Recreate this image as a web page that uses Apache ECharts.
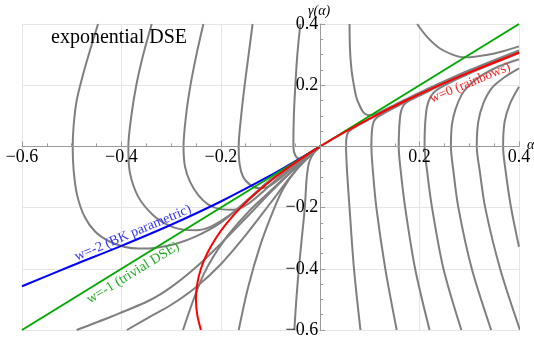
<!DOCTYPE html>
<html><head><meta charset="utf-8">
<script src="https://cdn.jsdelivr.net/npm/echarts@6/dist/echarts.min.js"></script>
<style>html,body{margin:0;padding:0;background:#fff}#c{width:534px;height:338px}</style>
</head><body><div id="c"></div>
<script>
// ---- data (x = alpha, y = gamma(alpha)) ----
const xTicks = [-0.6, -0.4, -0.2, 0, 0.2, 0.4];
const yTicks = [-0.6, -0.4, -0.2, 0, 0.2, 0.4];

const blueW2 = [[-0.6,-0.457],[-0.5,-0.39],[-0.4,-0.325],[-0.3,-0.256],[-0.2,-0.18],[-0.1,-0.095],[-0.05,-0.048],[0,0]];
const greenW1 = [[-0.6,-0.6],[0.4,0.4]];
const redW0 = [[-0.24,-0.6],[-0.2475,-0.55],[-0.25,-0.5],[-0.2475,-0.45],[-0.24,-0.4],[-0.2275,-0.35],[-0.21,-0.3],[-0.1875,-0.25],[-0.16,-0.2],[-0.1275,-0.15],[-0.09,-0.1],[-0.0475,-0.05],[0,0],[0.0525,0.05],[0.11,0.1],[0.1725,0.15],[0.24,0.2],[0.3125,0.25],[0.39,0.3],[0.4,0.306]];

const L1 = [[-0.447,0.4],[-0.463,0.315],[-0.478,0.23],[-0.49,0.15],[-0.496,0.07],[-0.498,0],[-0.496,-0.08],[-0.489,-0.16],[-0.474,-0.23],[-0.452,-0.28],[-0.425,-0.31],[-0.395,-0.328],[-0.365,-0.334],[-0.33,-0.331],[-0.29,-0.318],[-0.25,-0.294],[-0.2,-0.249],[-0.15,-0.18],[-0.1,-0.11],[-0.06,-0.065],[-0.03,-0.031],[0,0]];
const L2 = [[-0.339,0.4],[-0.356,0.3],[-0.37,0.2],[-0.38,0.1],[-0.386,0],[-0.383,-0.085],[-0.366,-0.165],[-0.336,-0.225],[-0.305,-0.258],[-0.275,-0.272],[-0.25,-0.274],[-0.22,-0.262],[-0.18,-0.222],[-0.14,-0.168],[-0.1,-0.108],[-0.05,-0.052],[0,0]];
const L3 = [[-0.235,0.4],[-0.249,0.3],[-0.261,0.2],[-0.27,0.1],[-0.275,0],[-0.272,-0.066],[-0.262,-0.115],[-0.245,-0.16],[-0.225,-0.19],[-0.2,-0.205],[-0.175,-0.207],[-0.15,-0.193],[-0.12,-0.155],[-0.08,-0.096],[-0.04,-0.044],[0,0]];
const L4 = [[-0.136,0.4],[-0.144,0.3],[-0.152,0.2],[-0.159,0.1],[-0.164,0],[-0.162,-0.06],[-0.155,-0.1],[-0.142,-0.124],[-0.125,-0.136],[-0.105,-0.132],[-0.08,-0.104],[-0.05,-0.062],[-0.025,-0.03],[0,0]];
const L5 = [[-0.04,0.4],[-0.046,0.3],[-0.05,0.2],[-0.053,0.1],[-0.054,0],[-0.05,-0.03],[-0.04,-0.042],[-0.025,-0.03],[-0.01,-0.011],[0,0]];
const B1 = [[0,0],[-0.012,-0.02],[-0.022,-0.05],[-0.027,-0.1],[-0.031,-0.2],[-0.037,-0.3],[-0.043,-0.4],[-0.048,-0.5],[-0.052,-0.6]];
const F1 = [[0,0],[-0.02,-0.03],[-0.05,-0.08],[-0.075,-0.14],[-0.094,-0.208],[-0.12,-0.32],[-0.145,-0.46],[-0.164,-0.6]];
const F2 = [[0,0],[-0.03,-0.04],[-0.07,-0.1],[-0.11,-0.16],[-0.141,-0.208],[-0.19,-0.3],[-0.235,-0.42],[-0.276,-0.6]];
const F3 = [[-0.389,-0.6],[-0.342,-0.556],[-0.302,-0.52],[-0.25,-0.46],[-0.2,-0.385],[-0.15,-0.29],[-0.1,-0.185],[-0.06,-0.1],[-0.03,-0.045],[0,0]];
const F4 = [[-0.49,-0.6],[-0.42,-0.556],[-0.342,-0.502],[-0.3,-0.46],[-0.25,-0.395],[-0.2,-0.318],[-0.15,-0.235],[-0.1,-0.15],[-0.06,-0.085],[-0.03,-0.04],[0,0]];
const R1 = [[0.081,-0.6],[0.068,-0.4],[0.059,-0.2],[0.054,-0.08],[0.052,0],[0.053,0.03],[0.057,0.048],[0.065,0.058],[0.08,0.072],[0.1,0.09],[0.15,0.132],[0.2,0.172],[0.3,0.244],[0.4,0.309]];
const R2 = [[0.154,-0.6],[0.131,-0.4],[0.113,-0.2],[0.106,-0.08],[0.103,0],[0.104,0.05],[0.107,0.078],[0.113,0.093],[0.125,0.105],[0.15,0.127],[0.2,0.17],[0.3,0.244],[0.4,0.31]];
const R3 = [[0.22,-0.6],[0.191,-0.4],[0.171,-0.2],[0.162,-0.08],[0.158,0],[0.159,0.06],[0.162,0.11],[0.168,0.135],[0.18,0.15],[0.2,0.166],[0.25,0.206],[0.3,0.243],[0.4,0.308]];
const R4 = [[0.284,-0.6],[0.248,-0.4],[0.225,-0.2],[0.215,-0.08],[0.21,0],[0.211,0.07],[0.215,0.13],[0.223,0.165],[0.235,0.185],[0.26,0.208],[0.3,0.238],[0.35,0.272],[0.4,0.305]];
const R5 = [[0.344,-0.6],[0.305,-0.4],[0.278,-0.2],[0.268,-0.08],[0.263,0],[0.265,0.07],[0.272,0.12],[0.285,0.17],[0.3,0.2],[0.325,0.232],[0.36,0.262],[0.4,0.285]];
const R6 = [[0.402,-0.6],[0.362,-0.4],[0.332,-0.2],[0.321,-0.08],[0.315,0],[0.318,0.08],[0.328,0.14],[0.345,0.19],[0.37,0.225],[0.4,0.255]];
const R7 = [[0.4,-0.328],[0.384,-0.2],[0.373,-0.08],[0.368,0],[0.371,0.08],[0.382,0.14],[0.4,0.195]];
const T1 = [[0.195,0.4],[0.215,0.358],[0.241,0.32],[0.275,0.295],[0.295,0.291],[0.335,0.299],[0.37,0.312],[0.4,0.327]];
const T2 = [[0.059,0.4],[0.06,0.315],[0.063,0.25],[0.067,0.207],[0.072,0.165],[0.077,0.142],[0.087,0.111],[0.097,0.102],[0.11,0.105],[0.127,0.118],[0.15,0.136],[0.2,0.176],[0.3,0.249],[0.4,0.314]];

const grayCurves = [L1, L2, L3, L4, L5, B1, F1, F2, F3, F4, R1, R2, R3, R4, R5, R6, R7, T1, T2];

const titleText = 'exponential DSE';
const labelBlue = 'w=-2 (BK parametric)';
const labelGreen = 'w=-1 (trivial DSE)';
const labelRed = 'w=0 (rainbows)';

// ---- chart ----
const W = 534, H = 338;
const G = {left: 22, right: 15, top: 24, bottom: 8};
const xMin = xTicks[0], xMax = xTicks[xTicks.length - 1];
const yMin = yTicks[0], yMax = yTicks[yTicks.length - 1];
const plotW = W - G.left - G.right, plotH = H - G.top - G.bottom;
const zeroX = G.left + (0 - xMin) / (xMax - xMin) * plotW;
const zeroY = G.top + (yMax - 0) / (yMax - yMin) * plotH;

const chart = echarts.init(document.getElementById('c'), null, {renderer: 'canvas'});
const SERIF = '"Liberation Serif","DejaVu Serif",serif';
const fmt = v => (Math.abs(v) < 1e-9 ? '' : (v < 0 ? '\u2212' : '') + Math.abs(v).toFixed(1));

function axis(extra) {
  return Object.assign({
    type: 'value', interval: 0.2,
    axisLine: {onZero: false, lineStyle: {color: '#9a9a9a', width: 1}},
    axisTick: {show: true, inside: true, length: 5, lineStyle: {color: '#9a9a9a'}},
    minorTick: {show: true, splitNumber: 4, length: 3, lineStyle: {color: '#9a9a9a'}},
    splitLine: {show: false},
    minorSplitLine: {show: false},
    axisLabel: {formatter: fmt, color: '#000', fontFamily: SERIF, fontSize: 18, margin: 2, showMinLabel: true, showMaxLabel: true, hideOverlap: false}
  }, extra);
}
function gridAxis(extra) {
  return Object.assign({
    type: 'value', interval: 0.2, show: true,
    axisLine: {show: false}, axisTick: {show: false}, axisLabel: {show: false},
    splitLine: {show: true, lineStyle: {color: '#e6e6e6', width: 1}}
  }, extra);
}

const series = grayCurves.map(d => ({
  type: 'line', data: d, showSymbol: false, smooth: 0.3, clip: true,
  lineStyle: {color: '#7f7f7f', width: 2}, silent: true, z: 2
}));
series.push({type: 'line', data: blueW2, showSymbol: false, smooth: 0.3, lineStyle: {color: '#0000ff', width: 2}, z: 3, silent: true});
series.push({type: 'line', data: greenW1, showSymbol: false, lineStyle: {color: '#00aa00', width: 2}, z: 3, silent: true});
series.push({type: 'line', data: redW0, showSymbol: false, smooth: 0.3, lineStyle: {color: '#ff0000', width: 2}, z: 4, silent: true});

chart.setOption({
  animation: false,
  backgroundColor: '#fff',
  grid: {left: G.left, right: G.right, top: G.top, bottom: G.bottom, containLabel: false, outerBoundsMode: 'none'},
  xAxis: [
    axis({min: xMin, max: xMax, position: 'bottom', offset: -(H - G.bottom - zeroY), z: 5}),
    gridAxis({min: xMin, max: xMax, position: 'top'})
  ],
  yAxis: [
    axis({min: yMin, max: yMax, position: 'left', offset: -(zeroX - G.left), z: 5}),
    gridAxis({min: yMin, max: yMax, position: 'right'})
  ],
  series: series,
  graphic: [
    {type: 'text', left: 51, top: 28, style: {text: titleText, font: '20px ' + SERIF, fill: '#000'}, z: 10},
    {type: 'text', x: 133, y: 233, rotation: 23 * Math.PI / 180, style: {text: labelBlue, font: '14px ' + SERIF, fill: '#3333ff', align: 'center', verticalAlign: 'middle'}, z: 10},
    {type: 'text', x: 133, y: 273, rotation: 31.6 * Math.PI / 180, style: {text: labelGreen, font: '14px ' + SERIF, fill: '#22aa22', align: 'center', verticalAlign: 'middle'}, z: 10},
    {type: 'text', x: 470, y: 83, rotation: 22.6 * Math.PI / 180, style: {text: labelRed, font: '13.5px ' + SERIF, fill: '#ff2222', align: 'center', verticalAlign: 'middle'}, z: 10},
    {type: 'text', x: 308, y: 4, style: {text: '\u03b3(\u03b1)', font: 'italic 14px ' + SERIF, fill: '#000'}, z: 10},
    {type: 'text', x: 527, y: 138, style: {text: '\u03b1', font: 'italic 14px ' + SERIF, fill: '#000'}, z: 10}
  ]
});
</script></body></html>
